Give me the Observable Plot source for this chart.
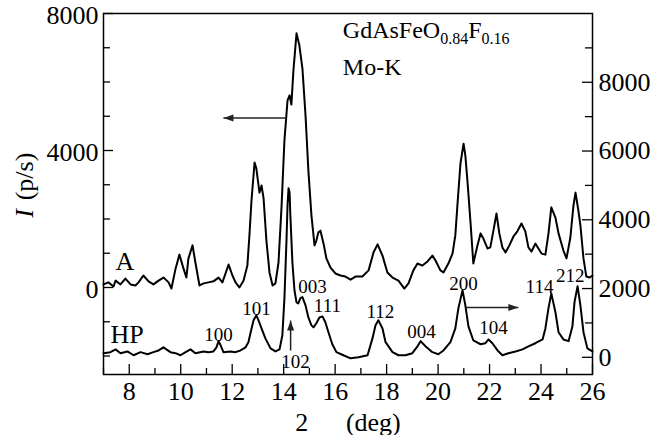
<!DOCTYPE html>
<html><head><meta charset="utf-8">
<script src="https://cdn.jsdelivr.net/npm/d3@7"></script>
<script src="https://cdn.jsdelivr.net/npm/@observablehq/plot@0.6"></script>
<style>body{margin:0;background:#fff}#chart svg{display:block}</style>
</head><body><div id="chart"></div>
<script>
// ---- data (2θ in deg; A on left axis, HP on right axis) ----
const xA = [7.00,7.19,7.39,7.47,7.66,7.85,8.05,8.24,8.36,8.55,8.75,8.94,9.14,9.33,9.53,9.64,9.80,9.95,10.11,10.22,10.30,10.46,10.57,10.73,10.89,11.08,11.27,11.47,11.62,11.74,11.86,12.01,12.13,12.28,12.44,12.59,12.67,12.75,12.87,12.94,13.06,13.14,13.22,13.33,13.45,13.57,13.68,13.80,13.92,14.03,14.15,14.23,14.30,14.38,14.50,14.61,14.73,14.85,14.96,15.08,15.20,15.27,15.35,15.43,15.55,15.66,15.82,16.01,16.21,16.40,16.60,16.79,17.06,17.30,17.49,17.65,17.84,18.03,18.23,18.46,18.69,18.85,19.04,19.20,19.39,19.59,19.78,19.90,20.09,20.21,20.40,20.56,20.67,20.75,20.87,20.99,21.06,21.14,21.26,21.37,21.53,21.65,21.76,21.92,22.03,22.15,22.27,22.38,22.50,22.62,22.77,22.93,23.08,23.24,23.39,23.51,23.63,23.78,23.90,24.02,24.17,24.29,24.40,24.56,24.68,24.87,24.99,25.14,25.26,25.34,25.45,25.53,25.65,25.76,25.88,26.00];
const yA = [90,150,30,200,90,260,90,60,150,350,180,90,200,290,150,-30,550,960,550,290,850,1230,730,60,120,150,180,290,150,410,670,350,150,0,200,640,1520,2540,3650,3470,2770,2980,2600,1370,440,60,120,730,2390,4290,5460,5610,5340,6340,7420,7070,6390,5020,3420,2100,1230,1370,1610,1660,1280,850,580,410,350,320,230,320,320,500,1020,1260,930,440,290,200,-30,120,500,700,640,760,930,790,500,440,700,990,1520,2390,3620,4200,3850,3120,1900,700,1230,1580,1430,1140,1170,1660,2160,1580,1170,1020,1230,1490,1640,1870,1640,1170,1050,1280,1140,990,960,1580,2340,2040,1580,1080,850,1460,2390,2770,2250,1810,850,320,290,350];
const xHP = [7.00,7.27,7.47,7.66,7.93,8.17,8.44,8.71,8.94,9.14,9.33,9.60,9.80,9.99,10.19,10.38,10.57,10.89,11.08,11.27,11.39,11.47,11.55,11.66,11.93,12.13,12.32,12.52,12.63,12.71,12.83,12.94,13.02,13.14,13.29,13.49,13.68,13.84,13.95,14.03,14.11,14.15,14.19,14.23,14.26,14.34,14.42,14.50,14.57,14.65,14.73,14.85,14.96,15.08,15.16,15.27,15.39,15.51,15.62,15.74,15.89,16.05,16.32,16.60,16.91,17.26,17.45,17.57,17.68,17.84,17.96,18.23,18.46,18.73,19.00,19.20,19.32,19.51,19.78,20.01,20.21,20.48,20.67,20.79,20.95,21.06,21.18,21.37,21.65,21.84,21.96,22.11,22.31,22.50,22.73,23.01,23.28,23.51,23.78,24.06,24.17,24.29,24.40,24.56,24.68,24.87,25.07,25.22,25.30,25.42,25.53,25.65,25.80,26.00];
const yHP = [120,150,230,120,170,60,150,90,150,200,290,150,120,60,150,230,120,170,150,170,290,470,350,150,170,150,200,290,440,700,1080,1220,1080,840,550,260,170,230,640,1720,3400,4420,4920,4800,4130,2760,1950,1600,1570,1720,1750,1510,1160,930,870,990,1160,1190,1020,730,380,150,60,-30,0,60,550,930,1080,840,440,150,60,60,120,320,470,320,150,90,200,440,840,1430,1950,1510,900,490,380,410,520,410,200,60,120,170,230,320,410,520,840,1430,1860,1310,730,520,470,900,1600,2070,1510,730,260,170];

const xTicksMajor = [8,10,12,14,16,18,20,22,24,26];
const xTicksMinor = [7,9,11,13,15,17,19,21,23,25];
const leftTickLabels = [0,4000,8000];
const leftTicksAll = [-2000,-1000,0,1000,2000,3000,4000,5000,6000,7000,8000];
const rightTickLabels = [0,2000,4000,6000,8000];
const rightTicksAll = [0,1000,2000,3000,4000,5000,6000,7000,8000,9000];

const peakNames = ["100","101","102","003","111","112","004","200","104","114","212"];
const peakLabelX = [11.47,12.94,14.46,15.12,15.70,17.76,19.36,20.99,22.15,23.94,25.14];
const peakLabelY = [-1550,-790,-2340,-170,-720,-880,-1460,-60,-1370,-150,150];

const curveNames = ["A","HP"];
const curveLabelX = [7.47,7.27];
const curveLabelY = [500,-1610];

const arrowX1 = [14.07,21.06,14.27];
const arrowY1 = [4950,-584,-1840];
const arrowX2 = [11.66,23.12,14.27];
const arrowY2 = [4950,-584,-964];
const arrowDir = ["left","right","up"];

const titleX = 16.32, titleY = 7260, subtitleY = 6190;

// ---- layout ----
const W = 655, H = 435, mL = 103, mR = 63, mT = 13, mB = 61;
const plotW = W - mL - mR, plotH = H - mT - mB;
const yLeftDomain = [-2540, 8000];
const yRightDomain = [-500, 10000];
const k = (yLeftDomain[1]-yLeftDomain[0])/(yRightDomain[1]-yRightDomain[0]);
const toL = r => yLeftDomain[0] + (r - yRightDomain[0]) * k;
const toR = l => yRightDomain[0] + (l - yLeftDomain[0]) / k;

const dataA = xA.map((x,i)=>({x, y: yA[i]}));
const dataHP = xHP.map((x,i)=>({x, y: toL(yHP[i])}));
const peaks = peakNames.map((t,i)=>({t, x: peakLabelX[i], y: peakLabelY[i]}));
const curveLabs = curveNames.map((t,i)=>({t, x: curveLabelX[i], y: curveLabelY[i]}));
const arrows = arrowDir.map((d,i)=>({d, x1: arrowX1[i], y1: arrowY1[i], x2: arrowX2[i], y2: arrowY2[i]}));

function headSymbol(dir){
  return {draw(ctx){
    const L = 10, hw = 3.5;
    ctx.moveTo(0,0);
    if (dir==="left"){ctx.lineTo(L,-hw);ctx.lineTo(L,hw);}
    else if (dir==="right"){ctx.lineTo(-L,-hw);ctx.lineTo(-L,hw);}
    else {ctx.lineTo(-hw,L);ctx.lineTo(hw,L);}
    ctx.closePath();
  }};
}

const plot = Plot.plot({
  width: W, height: H,
  marginLeft: mL, marginRight: mR, marginTop: mT, marginBottom: mB,
  style: {fontFamily: "'Liberation Serif','Times New Roman',serif", fontSize: "26px", color: "#000", background: "#fff"},
  x: {domain: [7,26]},
  y: {domain: yLeftDomain},
  marks: [
    Plot.tickX(xTicksMajor, {x: v=>v, insetTop: plotH-10, stroke:"#000", strokeWidth:1.3}),
    Plot.tickX(xTicksMinor, {x: v=>v, insetTop: plotH-6, stroke:"#000", strokeWidth:1.3}),
    Plot.tickY(leftTicksAll.filter(v => v % 4000 === 0), {y: v=>v, insetRight: plotW - 10, stroke:"#000", strokeWidth:1.3}),
    Plot.tickY(leftTicksAll.filter(v => v % 4000 !== 0), {y: v=>v, insetRight: plotW - 7, stroke:"#000", strokeWidth:1.3}),
    Plot.tickY(rightTicksAll.filter(v => v % 2000 === 0), {y: v=>toL(v), insetLeft: plotW - 10, stroke:"#000", strokeWidth:1.3}),
    Plot.tickY(rightTicksAll.filter(v => v % 2000 !== 0), {y: v=>toL(v), insetLeft: plotW - 7, stroke:"#000", strokeWidth:1.3}),
    Plot.axisX(xTicksMajor, {anchor:"bottom", tickSize:0, tickPadding:7, tickFormat: v=>String(v), label:null}),
    Plot.axisY(leftTickLabels, {anchor:"left", tickSize:0, tickPadding:5, dy:2, tickFormat: v=>String(v), label:null}),
    Plot.axisY(rightTickLabels.map(toL), {anchor:"right", tickSize:0, tickPadding:6, tickFormat: l=>String(Math.round(toR(l))), label:null}),
    Plot.line(dataA, {x:"x", y:"y", stroke:"#000", strokeWidth:2}),
    Plot.line(dataHP, {x:"x", y:"y", stroke:"#000", strokeWidth:2}),
    Plot.frame({stroke:"#000", strokeWidth:1.5}),
    Plot.text(peaks, {x:"x", y:"y", text:"t", fontSize:19, lineAnchor:"bottom", textAnchor:"middle", fill:"#000"}),
    Plot.text(curveLabs, {x:"x", y:"y", text:"t", fontSize:26, lineAnchor:"bottom", textAnchor:"start", fill:"#000"}),
    Plot.link(arrows, {x1:"x1", y1:"y1", x2:"x2", y2:"y2", stroke:"#222", strokeWidth:1.5}),
    Plot.dot(arrows.filter(a=>a.d==="left"), {x:"x2", y:"y2", symbol: headSymbol("left"), fill:"#222", stroke:"none"}),
    Plot.dot(arrows.filter(a=>a.d==="right"), {x:"x2", y:"y2", symbol: headSymbol("right"), fill:"#222", stroke:"none"}),
    Plot.dot(arrows.filter(a=>a.d==="up"), {x:"x2", y:"y2", symbol: headSymbol("up"), fill:"#222", stroke:"none"}),
    Plot.text(["2\u2003\u2009 (deg)"], {frameAnchor:"bottom", dy:56, lineAnchor:"bottom", textAnchor:"middle", fontSize:26, fill:"#000"}),
    Plot.text(["I"], {frameAnchor:"left", dx:-71, dy:19.5, rotate:-90, lineAnchor:"bottom", textAnchor:"middle", fontStyle:"italic", fontSize:26, fill:"#000"}),
    Plot.text(["(p/s)"], {frameAnchor:"left", dx:-71, dy:-17.5, rotate:-90, lineAnchor:"bottom", textAnchor:"middle", fontSize:26, fill:"#000"})
  ]
});

// title with subscripts, positioned through the plot's scales
const sx = plot.scale("x"), sy = plot.scale("y");
const g = d3.select(plot).append("g").attr("font-family","'Liberation Serif','Times New Roman',serif").attr("fill","#000").attr("text-anchor","start");
const t1 = g.append("text").attr("x", sx.apply(titleX)).attr("y", sy.apply(titleY)).attr("font-size", 24);
t1.append("tspan").text("GdAsFeO");
t1.append("tspan").attr("font-size",16).attr("dy",6).text("0.84");
t1.append("tspan").attr("dy",-6).text("F");
t1.append("tspan").attr("font-size",16).attr("dy",6).text("0.16");
g.append("text").attr("x", sx.apply(titleX)).attr("y", sy.apply(subtitleY)).attr("font-size",24).text("Mo-K");

document.getElementById("chart").appendChild(plot);
</script>
</body></html>
